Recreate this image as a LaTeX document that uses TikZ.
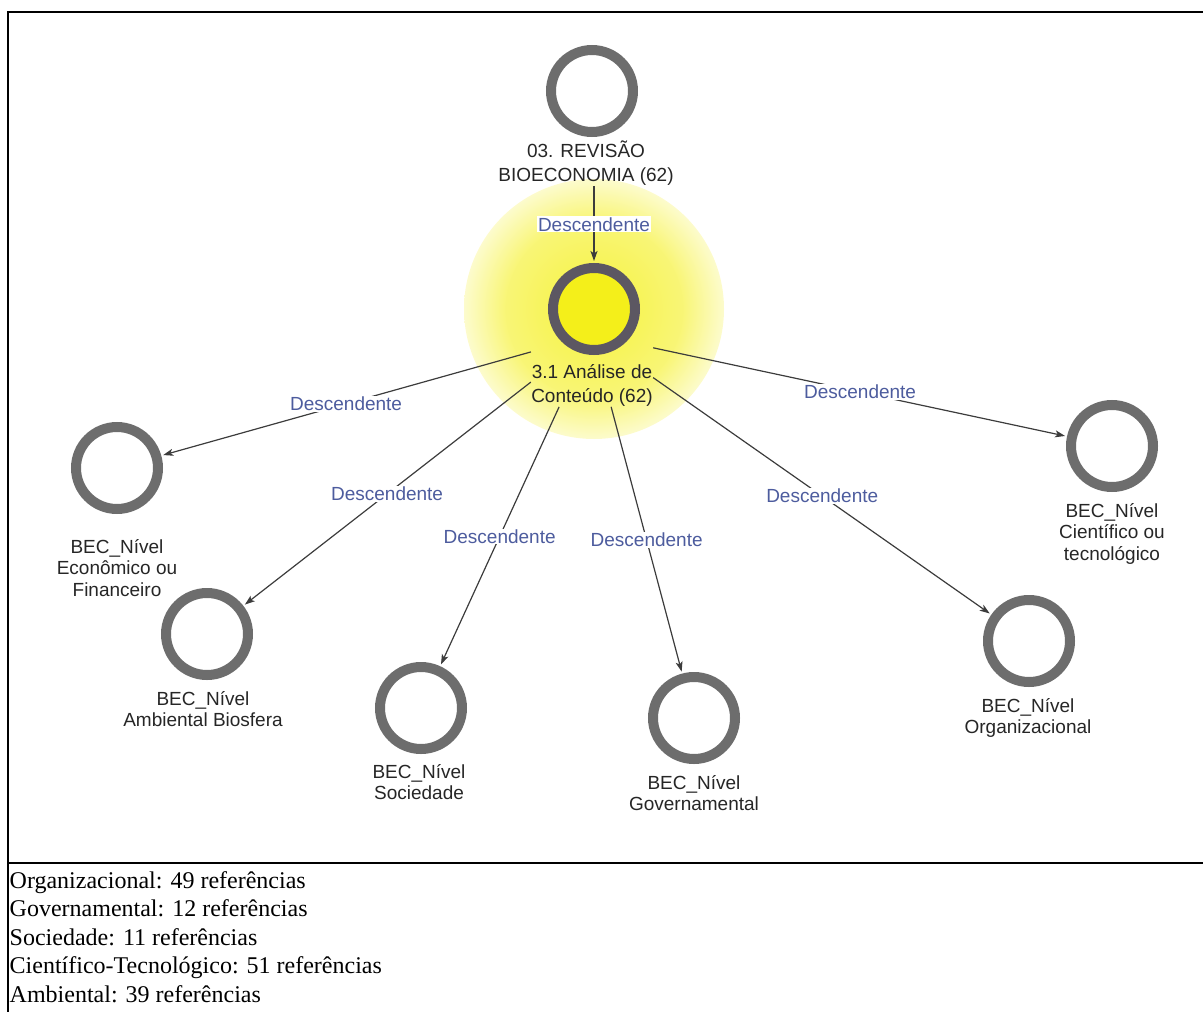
\documentclass[tikz,border=0pt]{standalone}
\usepackage{fontspec}
\setmainfont{Liberation Serif}
\newfontfamily\labelsans{Liberation Sans}
\usetikzlibrary{arrows.meta,fit}
\definecolor{ringgray}{HTML}{6D6D6D}
\definecolor{rootring}{HTML}{5C5762}
\definecolor{rootfill}{HTML}{F4EF1A}
\definecolor{edgeline}{HTML}{3C3C3C}
\definecolor{edgetext}{HTML}{4D5C9E}
% soft yellow halo behind the selected node
\pgfdeclareradialshading{rootglow}{\pgfpoint{0bp}{0bp}}{%
  color(0bp)=(rootfill!85!white); color(17bp)=(rootfill!60!white);
  color(25bp)=(rootfill!22!white); color(37bp)=(rootfill!7!white);
  color(50bp)=(white)}
\begin{document}
\begin{tikzpicture}[x=1pt,y=-1pt,
  ring/.style={circle,draw=ringgray,line width=10pt,fill=white,minimum size=82pt,inner sep=0pt},
  rootring/.style={ring,draw=rootring,fill=rootfill},
  % anchor=base sits on the last line of a multi-line caption
  caption/.style={font=\labelsans\fontsize{19}{21.5}\selectfont,align=center,inner sep=0pt,anchor=base,text=black!85},
  widecaption/.style={caption,font=\labelsans\fontsize{19}{24.5}\selectfont},
  link/.style={draw=edgeline,line width=1.2pt,-{Stealth[length=10pt,width=7pt,inset=2.5pt]},shorten >=2pt},
  tag/.style={font=\labelsans\fontsize{19}{21}\selectfont,text=edgetext,fill=white,inner sep=1pt},
  frame/.style={line width=2.8pt,black}
]
\useasboundingbox (0,0) rectangle (1203,1012);

% halo
\shade[shading=rootglow] (594,309) circle (130pt);

% frame of the figure and of the tally below it
\draw[frame] (1203,12) -- (8,12) -- (8,1012);
\draw[frame] (8,863) -- (1203,863);

% source and selected node
\node[ring] (topc) at (592,91) {};
\node[widecaption] (topl) at (586,181.5) {03. REVISÃO\\BIOECONOMIA (62)};
\node[fit=(topc)(topl),inner sep=0pt] (top) {};

\node[rootring] (rootc) at (594,309) {};
\node[widecaption] (rootl) at (592,402.5) {3.1 Análise de\\Conteúdo (62)};
\node[fit=(rootc)(rootl),inner sep=0pt] (root) {};

% child nodes
\node[ring] (econ) at (117,468) {};
\node[caption] (econl) at (117,596) {BEC\_Nível\\Econômico ou\\Financeiro};

\node[ring] (amb) at (207,634) {};
\node[caption] (ambl) at (203,726.5) {BEC\_Nível\\Ambiental Biosfera};

\node[ring] (soc) at (421,708) {};
\node[caption] (socl) at (419,799.5) {BEC\_Nível\\Sociedade};

\node[ring] (gov) at (694,718) {};
\node[caption] (govl) at (694,810.5) {BEC\_Nível\\Governamental};

\node[ring] (cie) at (1112,446) {};
\node[caption] (ciel) at (1112,560) {BEC\_Nível\\Científico ou\\tecnológico};

\node[ring] (org) at (1029,641) {};
\node[caption] (orgl) at (1028,733.5) {BEC\_Nível\\Organizacional};

% connectors
\draw[link] (rootc |- top.south) -- node[tag] {Descendente} (rootc.north);
\draw[link] (root) -- node[tag] {Descendente} (econ);
\draw[link] (root) -- node[tag] {Descendente} (amb);
\draw[link] (root) -- node[tag] {Descendente} (soc);
\draw[link] (root) -- node[tag] {Descendente} (gov);
\draw[link] (root) -- node[tag] {Descendente} (org);
\draw[link] (root) -- node[tag] {Descendente} (cie);

% tally of references
\node[font=\fontsize{24}{28.5}\selectfont,align=left,anchor=base west,inner sep=0pt] (tally) at (9.5,1002)
  {Organizacional: 49 referências\\Governamental: 12 referências\\Sociedade: 11 referências\\Científico-Tecnológico: 51 referências\\Ambiental: 39 referências};
\end{tikzpicture}
\end{document}
